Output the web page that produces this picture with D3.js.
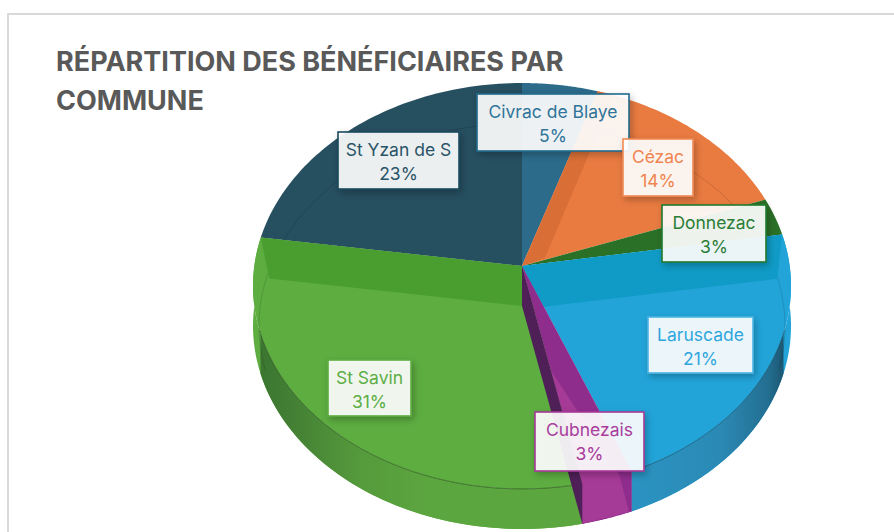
<!DOCTYPE html>
<html><head><meta charset="utf-8">
<script src="https://cdn.jsdelivr.net/npm/d3@7/dist/d3.min.js"></script>
<style>html,body{margin:0;padding:0;background:#fff}svg{display:block}</style>
</head><body><svg id="c" width="894" height="532"></svg>
<script>
const titleLines = ["RÉPARTITION DES BÉNÉFICIAIRES PAR", "COMMUNE"];
const categories = ["Civrac de Blaye", "Cézac", "Donnezac", "Laruscade", "Cubnezais", "St Savin", "St Yzan de S"];
const values = [5.0, 14.45, 3.0, 21.49, 2.8, 30.55, 22.71];

const colors = ["#2c6b8a", "#e97b41", "#2b7027", "#22a4d9", "#a63a97", "#5dad41", "#264f60"];
const borders = ["#1f6a8c", "#f08a55", "#1f7a2c", "#4db4e4", "#a63a97", "#5dad41", "#1c4a5e"];
const textCols = ["#2f7499", "#ef8550", "#2c7d36", "#2fa6dd", "#a83d9c", "#5cae45", "#2a5468"];
const labelBoxes = [[477,94,152,57],[623,139,70,57],[662,205,104,57],[648,317,105,56],[535,412,109,59],[328,360,83,56],[338,132,121,57]];

const svg = d3.select("#c");
const F = "Inter, 'Noto Sans', sans-serif";
const cx = 522, cy = 266, A = 201, B = 267.7, k = 0.0985, depth = 40;
const P = (r, a) => { const v = r * Math.cos(a), u = r * Math.sin(a), d = 1 + k * v; return [cx + B * u / d, cy - A * v / d]; };
const deg = d => d * Math.PI / 180;
const line = d3.line();
const arcPts = (a0, a1, r = 1, dy = 0, sx = 1) => d3.range(0, 61).map(i => {
  const p = P(r, a0 + (a1 - a0) * i / 60);
  return [cx + (p[0] - cx) * sx, p[1] + dy];
});
const lerp = (p, q, t) => [p[0] + (q[0] - p[0]) * t, p[1] + (q[1] - p[1]) * t];
const arcs = d3.pie().sort(null).value(d => d)(values);
const apex = P(0, 0);

// frame
svg.append("rect").attr("x", 8).attr("y", 14).attr("width", 1000).attr("height", 700)
  .attr("fill", "#fff").attr("stroke", "#d9d9d9").attr("stroke-width", 2);

const defs = svg.append("defs");
const grad = (id, x1, x2, stops) => {
  const g = defs.append("linearGradient").attr("id", id).attr("gradientUnits", "userSpaceOnUse")
    .attr("x1", x1).attr("x2", x2).attr("y1", 0).attr("y2", 0);
  stops.forEach(s => g.append("stop").attr("offset", s[0]).attr("stop-color", s[1]));
};
grad("gGreen", 255, 430, [[0, "#3a7430"], [0.2, "#437f34"], [0.6, "#559a3c"], [1, "#5ca63f"]]);
grad("gBlue", 630, 792, [[0, "#2a93c2"], [0.55, "#2b8ab5"], [0.85, "#236f92"], [1, "#184a60"]]);
const f = defs.append("filter").attr("id", "sh").attr("x", "-20%").attr("y", "-20%").attr("width", "150%").attr("height", "150%");
f.append("feDropShadow").attr("dx", 2).attr("dy", 3).attr("stdDeviation", 3.5).attr("flood-color", "#000").attr("flood-opacity", 0.28);

const band = (a0, a1, fill) => svg.append("path")
  .attr("d", line(arcPts(a0, a1).concat(arcPts(a1, a0, 1, depth))) + "Z").attr("fill", fill);

const [civ, cez, don, lar, cub, sav, yza] = arcs;

// side walls
band(lar.startAngle, lar.endAngle, colors[3]);
band(deg(109), lar.endAngle, "url(#gBlue)");
band(sav.startAngle, sav.endAngle, colors[5]);
band(sav.startAngle, deg(251), "url(#gGreen)");
band(cub.startAngle, cub.endAngle, "#8f2d8c");

// top faces
arcs.forEach((d, i) => {
  svg.append("path").attr("d", line([apex].concat(arcPts(d.startAngle, d.endAngle))) + "Z").attr("fill", colors[i]);
});

// thin rim lines
svg.append("path").attr("d", line(arcPts(deg(252), deg(468), 1, depth, 0.978))).attr("fill", "none")
  .attr("stroke", "#000").attr("stroke-opacity", 0.13).attr("stroke-width", 1);
svg.append("path").attr("d", line(arcPts(deg(108), deg(252)))).attr("fill", "none")
  .attr("stroke", "#000").attr("stroke-opacity", 0.35).attr("stroke-width", 1);

// wedge-cut facets
const base = P(0.195, Math.PI);
svg.append("path").attr("d", line([apex, P(1, cez.startAngle), P(1, cez.startAngle + deg(4)), P(0.095, deg(65))]) + "Z").attr("fill", "#d96f36");
svg.append("path").attr("d", line([apex, P(1, lar.startAngle), P(0.95, lar.startAngle + deg(13)), P(0.214, lar.endAngle)]) + "Z").attr("fill", "#109bc6");
svg.append("path").attr("d", line([apex, P(1, sav.endAngle), P(0.94, sav.endAngle - deg(12)), base]) + "Z").attr("fill", "#4a9e2f");

// Cubnezais facets
const cubL = P(1, cub.endAngle), cubR = P(1, cub.startAngle);
const cubLb = [cubL[0], cubL[1] + depth], cubRb = [cubR[0], cubR[1] + depth];
svg.append("path").attr("d", line([apex, cubR, cubRb, cubLb, cubL]) + "Z").attr("fill", "#8f2d8c");
svg.append("path").attr("d", line([lerp(apex, cubL, 0.48), lerp(cubR, cubL, 0.25), lerp(cubRb, cubLb, 0.05), cubLb, cubL]) + "Z").attr("fill", "#a63a97");
svg.append("path").attr("d", line([apex, base, cubLb, cubL]) + "Z").attr("fill", "#4f2057");

// labels
arcs.forEach((d, i) => {
  const b = labelBoxes[i];
  const g = svg.append("g");
  g.append("rect").attr("x", b[0]).attr("y", b[1]).attr("width", b[2]).attr("height", b[3])
    .attr("fill", "#fff").attr("fill-opacity", 0.9).attr("stroke", borders[i]).attr("stroke-width", 1.6)
    .attr("filter", "url(#sh)");
  const mx = b[0] + b[2] / 2;
  g.append("text").attr("x", mx).attr("y", b[1] + 24).attr("text-anchor", "middle")
    .attr("font-family", F).attr("font-size", 17.5).attr("fill", textCols[i]).text(categories[i]);
  g.append("text").attr("x", mx).attr("y", b[1] + 48).attr("text-anchor", "middle")
    .attr("font-family", F).attr("font-size", 17.5).attr("fill", textCols[i]).text(Math.round(d.data) + "%");
});

// title
titleLines.forEach((t, i) => {
  svg.append("text").attr("x", 56).attr("y", 71 + i * 39).attr("font-family", F).attr("font-weight", 700)
    .attr("font-size", 27).attr("fill", "#595959").text(t);
});
</script></body></html>
